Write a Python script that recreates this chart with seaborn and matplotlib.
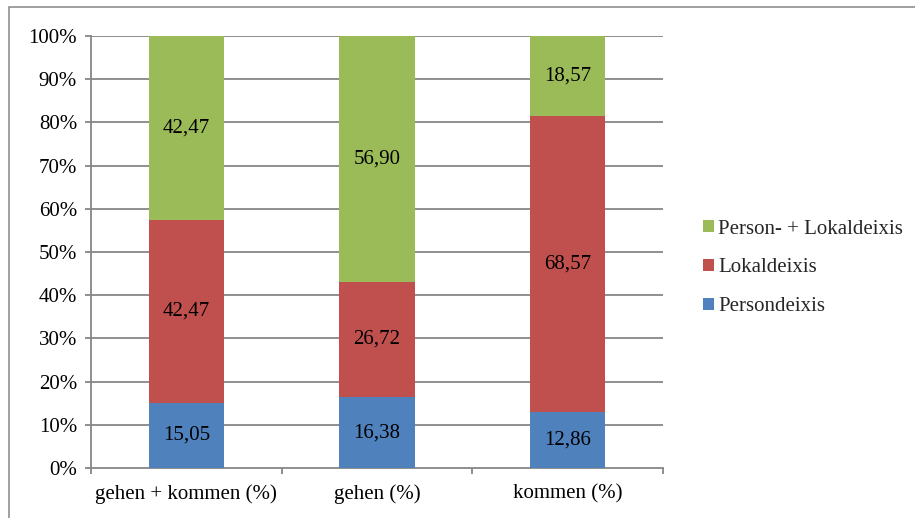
import matplotlib
matplotlib.use("Agg")
import matplotlib.pyplot as plt
import matplotlib.patches as mpatches
import numpy as np
import pandas as pd
import seaborn as sns

# Data: share of deixis types per verb group (percent)
categories = ["gehen + kommen (%)", "gehen (%)", "kommen (%)"]
persondeixis = [15.05, 16.38, 12.86]
lokaldeixis = [42.47, 26.72, 68.57]
person_lokal = [42.47, 56.90, 18.57]
series_names = ["Persondeixis", "Lokaldeixis", "Person- + Lokaldeixis"]
y_ticks = [0, 10, 20, 30, 40, 50, 60, 70, 80, 90, 100]
y_tick_labels = [f"{t}%" for t in y_ticks]

colors = {"Persondeixis": "#4F81BD",
          "Lokaldeixis": "#C0504D",
          "Person- + Lokaldeixis": "#9BBB59"}
grid_color = "#868686"
fs = 15

sns.set_theme(style="white")
plt.rcParams["font.family"] = ["Liberation Serif", "DejaVu Serif"]

fig = plt.figure(figsize=(9.15, 5.18), dpi=100)
ax = fig.add_axes([91 / 915, 50 / 518, 572 / 915, 432 / 518])

# Stacked bars: draw cumulative totals from top layer down
layers = [persondeixis, lokaldeixis, person_lokal]
cum = np.cumsum(np.array(layers), axis=0)
for name, tops in reversed(list(zip(series_names, cum))):
    df = pd.DataFrame({"cat": categories, "val": tops})
    sns.barplot(data=df, x="cat", y="val", color=colors[name], width=0.395,
                saturation=1, ax=ax, zorder=3, edgecolor="none", linewidth=0)

# Value labels centred in each segment
bottoms = np.vstack([np.zeros(len(categories)), cum[:-1]])
for vals, bots in zip(layers, bottoms):
    for i, (v, b) in enumerate(zip(vals, bots)):
        ax.text(i, b + v / 2, f"{v:.2f}".replace(".", ","), ha="center",
                va="center", fontsize=fs, color="black", zorder=4)

ax.set_xlim(-0.5, len(categories) - 0.5)
ax.set_ylim(0, 100)
ax.set_yticks(y_ticks)
ax.set_yticklabels(y_tick_labels)
ax.set_xlabel("")
ax.set_ylabel("")

# Horizontal gridlines behind the bars
for t in y_ticks[1:]:
    ax.axhline(t, color=grid_color, lw=1.3, zorder=1)

for side in ["top", "right"]:
    ax.spines[side].set_visible(False)
for side in ["left", "bottom"]:
    ax.spines[side].set_color(grid_color)
    ax.spines[side].set_linewidth(1.3)

# Category ticks sit between the groups
ax.set_xticks(np.arange(-0.5, len(categories) + 0.5, 1), minor=False)
ax.set_xticklabels([])
ax.set_xticks(np.arange(len(categories)), minor=True)
ax.set_xticklabels(categories, minor=True)
ax.tick_params(axis="x", which="major", direction="out", length=4,
               color=grid_color, width=1.3, bottom=True)
ax.tick_params(axis="x", which="minor", length=0, labelsize=fs, pad=12,
               labelcolor="black")
ax.tick_params(axis="y", direction="out", length=4, color=grid_color,
               width=1.3, left=True, labelsize=fs, pad=6, labelcolor="black")

# Legend, top layer listed first
handles = [mpatches.Patch(facecolor=colors[n], edgecolor="none", label=n)
           for n in reversed(series_names)]
fig.legend(handles=handles, loc="center left",
           bbox_to_anchor=(695 / 915, 1 - 268 / 518), frameon=False,
           fontsize=fs, handlelength=0.5, handleheight=0.5,
           handletextpad=0.2, labelspacing=0.95, borderaxespad=0)

# Chart frame
fig.add_artist(mpatches.Rectangle((9 / 915, -0.1), 1.1, 1.1 - 7 / 518,
                                  transform=fig.transFigure, fill=False,
                                  edgecolor=grid_color, lw=1.1))

fig.savefig("out.png", dpi=100)
